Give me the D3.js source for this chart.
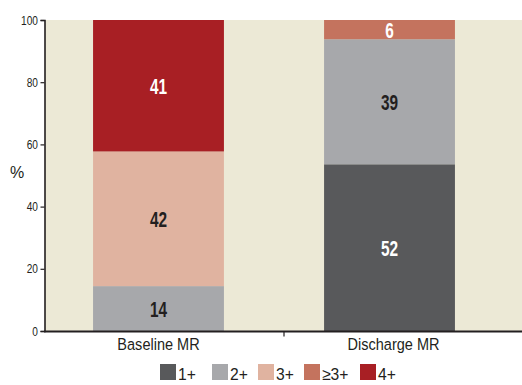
<!DOCTYPE html>
<html>
<head>
<meta charset="utf-8">
<script src="https://cdn.jsdelivr.net/npm/d3@7"></script>
<style>
  html, body { margin: 0; padding: 0; background: #fff; }
  svg { display: block; font-family: "Liberation Sans", Arial, sans-serif; }
</style>
</head>
<body>
<svg id="chart" width="522" height="385"></svg>
<script>
// Mitral regurgitation grade distribution, baseline vs discharge
const categories = ["Baseline MR", "Discharge MR"];
const grades = ["1+", "2+", "3+", "≥3+", "4+"];
const baselineValues = [0, 14, 42, 0, 41];
const dischargeValues = [52, 39, 0, 6, 0];
const yTicks = [0, 20, 40, 60, 80, 100];

const colors = {
  "1+": "#58595b",
  "2+": "#a7a8ab",
  "3+": "#e0b3a0",
  "≥3+": "#c4735e",
  "4+": "#a81f24"
};
const labelColors = {
  "1+": "#ffffff",
  "2+": "#231f20",
  "3+": "#231f20",
  "≥3+": "#ffffff",
  "4+": "#ffffff"
};
const ink = "#231f20";

const rows = [baselineValues, dischargeValues].map((vals, i) => {
  const r = { category: categories[i] };
  grades.forEach((g, j) => r[g] = vals[j]);
  return r;
});

const svg = d3.select("#chart");
const margin = { left: 45, top: 20, bottom: 54 };
const W = 522, H = 385;

// condensed lettering: narrow a regular face horizontally
function condensed(sel, sx) {
  sel.attr("transform", function () {
    const px = +this.getAttribute("data-x"), py = +this.getAttribute("data-y");
    return `translate(${px},${py}) scale(${sx},1)`;
  });
}

const x = d3.scaleBand()
  .domain(categories)
  .range([43, 505])
  .paddingInner(0.4335)
  .paddingOuter(0.2167);

const y = d3.scaleLinear().domain([0, 100]).range([H - margin.bottom, margin.top]);

// plot background
svg.append("rect")
  .attr("x", margin.left)
  .attr("y", y(100))
  .attr("width", W - margin.left)
  .attr("height", y(0) - y(100))
  .attr("fill", "#ece9d6");

// normalised stack: each bar spans 0–100 %
const series = d3.stack().keys(grades).offset(d3.stackOffsetExpand)(rows);

svg.append("g").selectAll("g")
  .data(series)
  .join("g")
  .attr("fill", d => colors[d.key])
  .selectAll("rect")
  .data(d => d)
  .join("rect")
  .attr("x", p => x(p.data.category))
  .attr("width", x.bandwidth())
  .attr("y", p => y(p[1] * 100))
  .attr("height", p => y(p[0] * 100) - y(p[1] * 100));

// value labels
const labels = [];
series.forEach(s => s.forEach(p => {
  if (p.data[s.key] > 0) labels.push({ key: s.key, p, v: p.data[s.key] });
}));
svg.append("g").selectAll("text")
  .data(labels)
  .join("text")
  .attr("data-x", d => x(d.p.data.category) + x.bandwidth() / 2)
  .attr("data-y", d => y((d.p[0] + d.p[1]) / 2 * 100) + 8)
  .attr("text-anchor", "middle")
  .attr("font-weight", "bold")
  .attr("font-size", 22)
  .attr("fill", d => labelColors[d.key])
  .text(d => d.v)
  .call(condensed, 0.7);

// y axis
const yAxis = svg.append("g")
  .attr("transform", `translate(${margin.left - 0.5},0)`)
  .call(d3.axisLeft(y).tickValues(yTicks).tickSize(4).tickFormat(() => ""));
yAxis.select(".domain").attr("stroke", ink).attr("stroke-width", 1.6);
yAxis.selectAll(".tick line").attr("stroke", ink).attr("stroke-width", 1.2);
svg.append("g").selectAll("text")
  .data(yTicks)
  .join("text")
  .attr("data-x", 38)
  .attr("data-y", d => y(d) + 4.5)
  .attr("text-anchor", "end")
  .attr("font-size", 13)
  .attr("fill", ink)
  .text(d => d)
  .call(condensed, 0.78);

// x axis
const xAxis = svg.append("g")
  .attr("transform", `translate(0,${y(0) + 0.5})`);
xAxis.append("line")
  .attr("x1", margin.left - 1).attr("x2", W)
  .attr("stroke", ink).attr("stroke-width", 2);
const divider = (x(categories[0]) + x.bandwidth() + x(categories[1])) / 2 + 10;
xAxis.append("line")
  .attr("x1", divider).attr("x2", divider)
  .attr("y1", 0).attr("y2", 5)
  .attr("stroke", ink).attr("stroke-width", 1.2);
svg.append("g").selectAll("text")
  .data(categories)
  .join("text")
  .attr("data-x", (d, i) => x(d) + x.bandwidth() / 2 + (i === 1 ? 4 : 0))
  .attr("data-y", y(0) + 19)
  .attr("text-anchor", "middle")
  .attr("font-size", 16.5)
  .attr("fill", ink)
  .text(d => d)
  .call(condensed, 0.88);

// y axis title
svg.append("text")
  .attr("x", 17)
  .attr("y", 178)
  .attr("text-anchor", "middle")
  .attr("font-size", 16)
  .attr("fill", ink)
  .text("%");

// legend
const legendX = [160, 212, 258, 304, 360];
const items = svg.append("g")
  .attr("transform", "translate(0,364)")
  .selectAll("g")
  .data(grades)
  .join("g")
  .attr("transform", (d, i) => `translate(${legendX[i]},0)`);
items.append("rect")
  .attr("width", 16).attr("height", 16)
  .attr("fill", d => colors[d]);
items.append("text")
  .attr("data-x", 18)
  .attr("data-y", 16)
  .attr("font-size", 16.5)
  .attr("fill", ink)
  .text(d => d)
  .call(condensed, 0.95);
</script>
</body>
</html>
